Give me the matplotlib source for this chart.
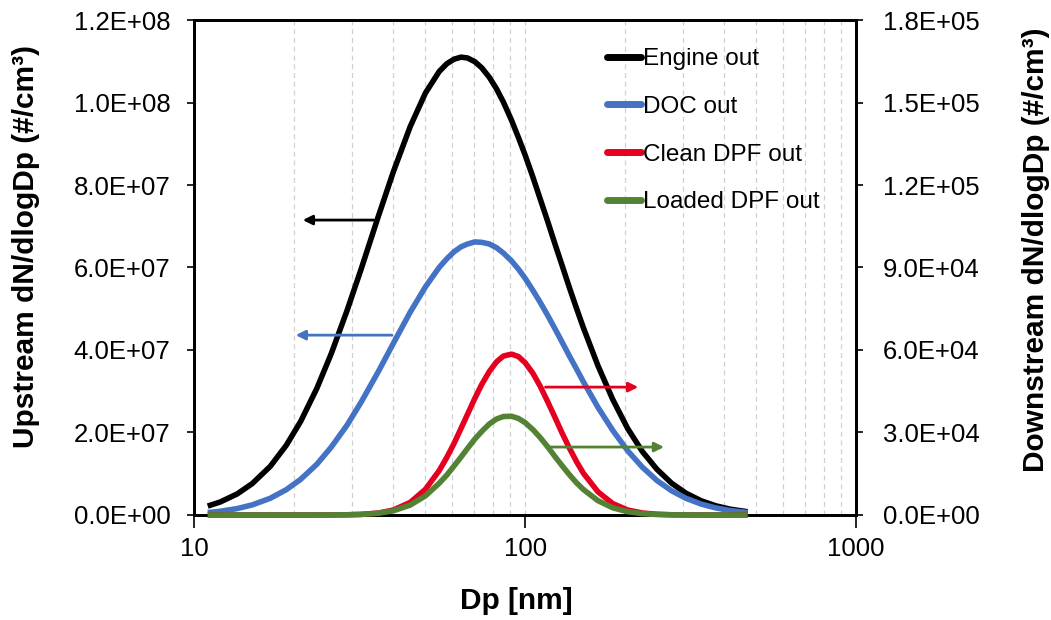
import numpy as np
import matplotlib
matplotlib.use("Agg")
import matplotlib.pyplot as plt
from matplotlib.ticker import FuncFormatter, FixedLocator

plt.rcParams['font.family'] = ['Liberation Sans', 'DejaVu Sans']

# particle diameter bins [nm]
dp = [11, 12, 13.5, 15, 17, 19, 21, 23.5, 26, 29, 32, 36, 40, 45, 50, 55, 58, 61, 64, 67,
      70.5, 74, 78, 82, 86, 91, 95.5, 100, 105.5, 111, 117, 123, 129, 136, 143, 150, 166,
      184, 204, 226, 250, 277, 306, 340, 376, 416, 470]

# upstream (left axis), unit 1E+06 #/cm3
engine_out = [2.16, 3.15, 5.10, 7.62, 11.8, 16.9, 22.7, 30.7, 39.2, 49.6, 59.7, 72.3, 83.2,
              94.2, 102.3, 107.5, 109.4, 110.5, 111.0, 110.8, 109.9, 108.4, 106.1, 103.3,
              100.1, 95.7, 91.5, 87.3, 82.0, 76.7, 71.2, 65.8, 60.8, 55.2, 50.1, 45.4, 36.2,
              28.0, 21.0, 15.4, 11.1, 7.71, 5.29, 3.45, 2.24, 1.41, 0.78]
doc_out = [0.58, 0.90, 1.55, 2.45, 4.05, 6.14, 8.65, 12.3, 16.5, 21.8, 27.4, 34.7, 41.6,
           49.2, 55.3, 60.0, 62.1, 63.8, 65.0, 65.7, 66.2, 66.1, 65.7, 64.8, 63.5, 61.6,
           59.6, 57.4, 54.5, 51.6, 48.4, 45.2, 42.1, 38.6, 35.4, 32.3, 26.1, 20.5, 15.6,
           11.6, 8.37, 5.87, 4.05, 2.65, 1.72, 1.09, 0.60]

# downstream (right axis), unit 1E+04 #/cm3
clean_dpf = [0, 0, 0, 0, 0, 0, 0, 0, 0.002, 0.007, 0.021, 0.069, 0.18, 0.458, 0.934, 1.61,
             2.09, 2.60, 3.14, 3.66, 4.24, 4.75, 5.22, 5.57, 5.78, 5.85, 5.76, 5.54, 5.16,
             4.69, 4.12, 3.56, 3.01, 2.44, 1.94, 1.52, 0.843, 0.414, 0.181, 0.072, 0.026,
             0.008, 0.002, 0, 0, 0, 0]
loaded_dpf = [0, 0, 0, 0, 0, 0, 0, 0, 0.002, 0.007, 0.020, 0.062, 0.152, 0.360, 0.695, 1.15,
              1.45, 1.78, 2.10, 2.42, 2.76, 3.04, 3.31, 3.49, 3.58, 3.59, 3.51, 3.36, 3.11,
              2.82, 2.48, 2.13, 1.81, 1.47, 1.17, 0.927, 0.520, 0.261, 0.118, 0.048, 0.018,
              0.006, 0.002, 0, 0, 0, 0]

labels = ["Engine out", "DOC out", "Clean DPF out", "Loaded DPF out"]
colors = ["#000000", "#4472C4", "#E60020", "#548235"]

dp = np.array(dp)
up = [np.array(engine_out) * 1e6, np.array(doc_out) * 1e6]
down = [np.array(clean_dpf) * 1e4, np.array(loaded_dpf) * 1e4]

fig = plt.figure(figsize=(10.51, 6.2), dpi=100)
ax = fig.add_axes([0.1846, 0.1694, 0.63, 0.7983])
ax2 = ax.twinx()

lines = []
for y, c, lab in zip(up, colors[:2], labels[:2]):
    l, = ax.plot(dp, y, color=c, lw=4.0, label=lab, clip_on=False, zorder=3,
                 solid_joinstyle='round', solid_capstyle='butt')
    lines.append(l)
for y, c, lab in zip(down, colors[2:], labels[2:]):
    l, = ax2.plot(dp, y, color=c, lw=4.0, label=lab, clip_on=False, zorder=3,
                  solid_joinstyle='round', solid_capstyle='butt')
    lines.append(l)

ax.set_xscale('log')
ax.set_xlim(10, 1000)
ax.set_ylim(0, 1.2e8)
ax2.set_ylim(0, 1.8e5)
ax.set_yticks(np.arange(0, 1.21e8, 2e7))
ax2.set_yticks(np.arange(0, 1.81e5, 3e4))
fmt = FuncFormatter(lambda v, p: f"{v:.1E}")
ax.yaxis.set_major_formatter(fmt)
ax2.yaxis.set_major_formatter(fmt)
ax.xaxis.set_major_locator(FixedLocator([10, 100, 1000]))
ax.xaxis.set_major_formatter(FuncFormatter(lambda v, p: f"{v:g}"))
ax.xaxis.set_minor_locator(FixedLocator([]))

# dashed vertical gridlines
for g in list(range(20, 100, 10)) + [100] + list(range(200, 1000, 100)):
    ax.axvline(g, color="#D0D0D0", lw=0.9, ls=(0, (4, 3)), zorder=0)

for a in (ax, ax2):
    for s in a.spines.values():
        s.set_linewidth(2)
    a.tick_params(labelsize=18.5, width=1.2, length=5, direction='out')
ax.tick_params(axis='y', pad=12)
ax2.tick_params(axis='y', pad=14)
ax.tick_params(axis='x', length=9, pad=7)

fig.text(516 / 1051, 1 - 601 / 620, "Dp [nm]", fontsize=21.5, fontweight='bold',
         ha='center', va='center')
fig.text(26 / 1051, 1 - 246 / 620, "Upstream dN/dlogDp (#/cm³)", fontsize=21.5,
         fontweight='bold', rotation=90, ha='center', va='center')
fig.text(1036 / 1051, 1 - 250 / 620, "Downstream dN/dlogDp (#/cm³)", fontsize=21.5,
         fontweight='bold', rotation=90, ha='center', va='center')

# arrows pointing to each curve's axis
arr = dict(arrowstyle='-|>', lw=2, mutation_scale=14)
ax.annotate("", xy=(20.9, 7.15e7), xytext=(35.7, 7.15e7),
            arrowprops=dict(arr, color=colors[0]))
ax.annotate("", xy=(19.9, 4.36e7), xytext=(40.4, 4.36e7),
            arrowprops=dict(arr, color=colors[1]))
ax2.annotate("", xy=(224, 4.65e4), xytext=(113, 4.65e4),
             arrowprops=dict(arr, color=colors[2]))
ax2.annotate("", xy=(268, 2.47e4), xytext=(117, 2.47e4),
             arrowprops=dict(arr, color=colors[3]))

leg = ax2.legend(lines, labels, loc='upper left', bbox_to_anchor=(607 / 1051, 1 - 48 / 620),
                 bbox_transform=fig.transFigure, frameon=False, fontsize=17.5,
                 handlelength=1.4, handletextpad=0.1, labelspacing=1.06, borderpad=0,
                 borderaxespad=0)
for h in leg.get_lines():
    h.set_linewidth(5)
    h.set_solid_capstyle('round')

fig.savefig("out.png", dpi=100)
